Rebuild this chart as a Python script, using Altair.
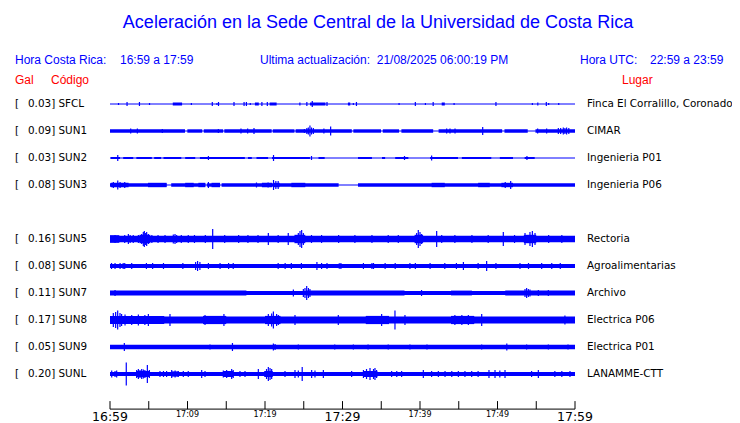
import altair as alt
import pandas as pd

BLUE = "#0000FF"
TITLE = "Aceleración en la Sede Central de la Universidad de Costa Rica"

codes = ["SFCL", "SUN1", "SUN2", "SUN3", "SUN5", "SUN6", "SUN7", "SUN8", "SUN9", "SUNL"]
gal = [0.03, 0.09, 0.03, 0.08, 0.16, 0.08, 0.11, 0.17, 0.05, 0.20]
places = ["Finca El Corralillo, Coronado", "CIMAR", "Ingenieria P01", "Ingenieria P06",
          "Rectoria", "Agroalimentarias", "Archivo", "Electrica P06", "Electrica P01",
          "LANAMME-CTT"]
slots = [0, 1, 2, 3, 5, 6, 7, 8, 9, 10]
# half thickness of the background band (pixels)
base_amp = [0.5, 1.7, 0.5, 1.7, 3.3, 2.1, 2.1, 3.6, 2.2, 2.1]

# minutes where the band thins to a line
gaps = {
    "SUN1": [(9.68, 9.98), (11.9, 12.1), (14.6, 14.75), (20.86, 21.0), (23.8, 23.95),
             (31.2, 31.4), (34.97, 35.2), (37.3, 37.6), (41.7, 42.4), (50.6, 50.9),
             (53.9, 54.9)],
    "SUN3": [(7.3, 7.9), (12.3, 12.5), (14.2, 14.4), (29.5, 32.0)],
}

# denser segments: (start min, end min, half amplitude px)
blocks = {
    "SFCL": [(8.1, 9.3, 1.5), (18.7, 19.2, 1.5), (20.6, 21.5, 1.5), (25.8, 27.8, 1.5),
             (30.7, 31.0, 1.5), (42.8, 43.2, 1.5)],
    "SUN2": [(0.1, 1.3, 1.0), (1.7, 3.0, 1.0), (3.4, 5.4, 1.0), (5.7, 6.6, 1.0),
             (6.9, 9.2, 1.0), (9.7, 11.0, 1.0), (11.6, 17.4, 1.0), (17.8, 18.3, 1.0),
             (18.9, 20.4, 1.0), (20.9, 25.8, 1.0), (26.9, 27.7, 1.0), (32.0, 33.8, 1.0),
             (35.1, 35.5, 1.0), (36.8, 38.5, 1.0), (41.3, 44.9, 1.0), (45.4, 49.2, 1.0),
             (50.3, 52.0, 1.0), (53.5, 54.8, 1.0)],
    "SUN3": [(0.1, 2.4, 2.2), (4.9, 7.3, 2.2), (9.7, 10.8, 2.2), (11.4, 12.3, 2.2),
             (13.1, 14.2, 2.2), (19.6, 20.9, 2.2), (21.1, 21.9, 2.2), (23.4, 25.2, 2.2),
             (41.5, 43.2, 2.2), (47.5, 49.0, 2.2), (50.5, 52.0, 2.2)],
    "SUN5": [(0.0, 1.2, 3.8), (3.8, 5.2, 4.2), (23.8, 25.2, 4.2), (39.3, 40.4, 4.2),
             (53.4, 55.0, 4.2)],
    "SUN6": [(29.5, 29.9, 2.7)],
    "SUN7": [(0.0, 17.6, 2.4), (25.3, 38.0, 2.4), (44.0, 46.7, 2.4), (51.0, 60.0, 2.4)],
    "SUN8": [(0.0, 7.0, 4.1), (12.0, 15.0, 4.1), (20.0, 22.0, 4.1), (33.0, 36.0, 4.1),
             (44.0, 47.0, 4.1)],
    "SUNL": [(3.4, 5.1, 3.0), (7.9, 8.9, 2.6), (14.6, 15.9, 3.0), (19.9, 21.0, 3.0),
             (32.7, 34.5, 3.0)],
}

# individual bursts: (minute, half amplitude px)
spikes = {
    "SFCL": [(1.1, 1), (2.2, 2), (3.8, 2), (5.1, 1), (10.5, 1), (13.2, 2), (13.8, 1), (14.0, 2),
             (16.0, 2), (17.3, 2), (17.6, 2), (18.1, 1), (19.6, 2), (20.3, 2), (24.5, 1.5),
             (25.4, 2), (26.1, 3), (28.0, 2), (31.4, 1), (31.8, 2), (37.3, 1), (39.4, 2),
             (40.7, 1), (41.7, 2), (44.4, 1), (49.8, 2), (54.5, 1), (55.2, 1.5), (56.3, 2),
             (56.6, 1), (57.9, 1)],
    "SUN1": [(2.67, 2.5), (3.53, 2.5), (6.75, 2), (13.98, 2), (16.9, 2.5), (17.76, 2.5),
             (18.58, 3), (25.08, 2), (25.4, 3), (25.59, 3.5), (25.8, 5.5), (26.0, 3.5),
             (26.24, 3), (27.6, 2.5), (28.47, 4.5), (43.44, 2.5), (43.87, 2.5), (44.52, 2.5),
             (48.09, 4), (55.18, 2.5), (56.34, 2.5), (57.85, 3), (58.15, 3), (58.49, 3.5),
             (58.7, 3), (58.92, 3.5), (59.2, 3)],
    "SUN2": [(1.0, 3), (12.7, 2), (21.1, 3), (26.0, 2), (38.0, 2), (41.5, 2.5), (53.8, 2)],
    "SUN3": [(0.43, 3), (1.0, 4.5), (1.3, 3), (1.9, 3), (12.7, 3), (18.9, 2.5), (20.4, 2.5),
             (21.1, 5), (21.4, 4), (21.7, 4), (51.0, 3), (51.7, 4)],
    "SUN5": [(2.37, 5), (4.09, 5), (4.3, 7), (4.43, 8), (4.6, 6), (4.73, 7), (4.95, 5),
             (8.17, 4.5), (8.39, 5), (8.6, 4), (13.25, 10), (20.43, 6), (23.0, 6), (24.3, 6),
             (24.52, 8), (24.73, 9), (24.95, 6), (39.57, 6), (39.78, 9), (40.0, 7), (40.2, 5),
             (42.15, 8), (50.75, 7), (53.55, 6), (54.19, 7), (54.5, 8), (54.84, 6),
             (0.65, 4), (1.9, 4), (2.6, 4), (3.0, 4), (3.66, 4), (5.4, 4), (6.2, 4), (7.1, 4),
             (9.2, 4), (10.1, 4), (10.9, 4), (12.3, 4), (14.8, 4), (16.6, 4), (17.8, 4),
             (19.1, 4), (21.7, 4), (26.0, 4), (27.3, 4), (29.5, 4), (31.6, 4), (33.8, 4),
             (35.9, 4), (37.2, 4), (42.8, 4), (44.5, 4), (46.7, 4), (48.8, 4), (52.2, 4),
             (56.6, 4), (58.3, 4)],
    "SUN6": [(0.2, 3), (0.65, 3), (1.3, 3), (1.7, 3), (1.9, 3), (2.8, 3), (4.7, 3), (5.5, 3),
             (6.9, 3), (9.4, 3), (11.05, 4), (11.3, 5), (11.6, 4), (12.7, 3), (14.2, 3),
             (15.3, 3), (15.9, 3), (21.7, 3), (22.6, 3), (23.4, 3), (24.7, 3), (26.7, 4),
             (27.3, 3), (28.0, 3), (32.7, 3), (33.8, 3), (34.0, 3), (35.5, 3), (36.8, 3),
             (38.7, 3), (39.4, 3), (41.3, 3), (43.2, 3), (44.7, 3), (45.6, 4), (47.5, 3),
             (48.6, 5), (49.8, 3), (52.9, 3), (54.0, 3), (55.7, 3), (57.0, 3), (58.1, 3)],
    "SUN7": [(0.65, 3), (23.66, 3.5), (24.95, 4), (25.16, 5), (25.38, 7), (25.6, 5),
             (25.8, 4), (40.2, 3), (53.55, 4), (53.76, 5), (53.98, 4), (54.19, 3.5),
             (55.27, 3), (56.56, 3)],
    "SUN8": [(0.43, 7), (0.73, 8), (0.99, 9.5), (1.29, 7), (1.5, 6), (1.94, 5.5), (2.8, 5),
             (3.66, 5.5), (4.5, 5), (4.95, 6), (7.74, 6), (12.26, 5), (14.7, 6), (20.43, 6),
             (20.86, 6.5), (21.08, 8.5), (21.5, 6), (21.72, 5), (23.87, 5), (29.46, 5),
             (35.05, 6), (36.77, 9.5), (38.06, 5), (44.5, 5), (45.4, 5), (46.24, 5),
             (47.96, 6), (58.7, 4.5)],
    "SUN9": [(1.85, 4), (12.9, 2.5), (15.8, 4), (21.08, 3.5), (21.3, 3), (24.3, 2.5),
             (29.0, 2.5), (31.4, 2.5), (33.3, 2.5), (35.9, 2.5), (38.7, 2.5), (40.9, 2.5),
             (47.96, 2.5), (51.2, 3.5), (53.76, 2.5), (56.56, 2.5), (59.1, 2.5)],
    "SUNL": [(0.22, 3.5), (0.65, 3), (0.86, 3.5), (2.1, 11.5), (3.44, 4), (3.66, 5), (3.87, 4),
             (4.09, 5), (4.3, 4.5), (4.5, 4), (4.82, 9), (5.08, 4), (6.45, 3), (6.9, 3),
             (7.3, 3), (7.96, 4), (8.4, 3.5), (8.8, 3), (9.46, 3), (10.1, 3), (11.83, 4),
             (12.26, 3), (14.62, 3.5), (15.05, 4), (15.7, 5), (15.9, 4), (16.77, 3),
             (17.42, 3), (19.14, 5), (20.2, 5), (20.43, 7), (20.65, 6), (20.86, 5),
             (22.58, 3), (23.87, 4), (24.3, 3.5), (24.8, 7), (26.02, 4), (26.45, 3.5),
             (27.53, 4), (31.18, 3), (32.7, 4), (33.1, 5), (33.55, 6), (34.0, 5), (34.19, 6),
             (34.4, 4), (36.34, 3), (37.0, 3), (37.63, 3), (40.43, 4), (41.5, 3), (42.37, 3),
             (43.23, 3), (44.1, 3), (44.95, 3), (45.8, 3), (46.67, 3), (47.5, 3), (48.9, 4),
             (49.68, 4), (50.3, 3.5), (50.97, 4), (54.4, 3), (55.27, 4), (57.4, 3), (58.3, 3),
             (59.35, 3)],
}

tick_minutes = list(range(0, 61, 5))
major_ticks = [0, 30, 60]
major_labels = ["16:59", "17:29", "17:59"]
minor_ticks = [10, 20, 40, 50]
minor_labels = ["17:09", "17:19", "17:39", "17:49"]

PX_PER_SLOT = 27.0
AXIS_SLOT = 11.3
TICK_LEN_SLOT = 8 / 27.0
NB = "\u00a0"

# ---------------- build tables ----------------
lines, bands, spk = [], [], []
for code, slot, b in zip(codes, slots, base_amp):
    lines.append({"t0": 0, "t1": 60, "y": slot})
    if b > 0.6:
        segs, start = [], 0.0
        for g0, g1 in gaps.get(code, []):
            segs.append((start, g0))
            start = g1
        segs.append((start, 60.0))
        for s0, s1 in segs:
            bands.append({"t0": s0, "t1": s1, "y": slot + b / PX_PER_SLOT, "y2": slot - b / PX_PER_SLOT})
    for s0, s1, a in blocks.get(code, []):
        bands.append({"t0": s0, "t1": s1, "y": slot + a / PX_PER_SLOT, "y2": slot - a / PX_PER_SLOT})
    for t, a in spikes.get(code, []):
        spk.append({"t": t, "y": slot + a / PX_PER_SLOT, "y2": slot - a / PX_PER_SLOT})

lines_df = pd.DataFrame(lines)
bands_df = pd.DataFrame(bands)
spk_df = pd.DataFrame(spk)
labels_df = pd.DataFrame({
    "y": slots,
    "bracket": ["["] * len(codes),
    "left": [f"{g:.2f}] {c}" for g, c in zip(gal, codes)],
    "right": places,
})
ticks_df = pd.DataFrame({"t": tick_minutes, "y": AXIS_SLOT, "y2": AXIS_SLOT - TICK_LEN_SLOT})
axis_df = pd.DataFrame({"t0": [0], "t1": [60], "y": [AXIS_SLOT]})
major_df = pd.DataFrame({"t": major_ticks, "label": major_labels})
minor_df = pd.DataFrame({"t": minor_ticks, "label": minor_labels})

xs = alt.Scale(domain=[0, 60], range=[102, 567])
ys = alt.Scale(domain=[0, 10], range=[96, 366])
X = lambda f: alt.X(f, type="quantitative", scale=xs, axis=None)
Y = lambda f: alt.Y(f, type="quantitative", scale=ys, axis=None)

layers = []
layers.append(alt.Chart(lines_df).mark_rule(color=BLUE, strokeWidth=1).encode(
    x=X("t0"), x2="t1", y=Y("y")))
layers.append(alt.Chart(bands_df).mark_rect(color=BLUE).encode(
    x=X("t0"), x2="t1", y=Y("y"), y2="y2"))
layers.append(alt.Chart(spk_df).mark_rule(color=BLUE, strokeWidth=1.2).encode(
    x=X("t"), y=Y("y"), y2="y2"))
layers.append(alt.Chart(axis_df).mark_rule(color="black", strokeWidth=1).encode(
    x=X("t0"), x2="t1", y=Y("y")))
layers.append(alt.Chart(ticks_df).mark_rule(color="black", strokeWidth=1).encode(
    x=X("t"), y=Y("y"), y2="y2"))
layers.append(alt.Chart(major_df).mark_text(font="DejaVu Sans", fontSize=12.5, color="black",
                                            baseline="middle").encode(
    x=X("t"), y=alt.value(408.5), text="label:N"))
layers.append(alt.Chart(minor_df).mark_text(font="DejaVu Sans", fontSize=8, color="black",
                                            baseline="middle").encode(
    x=X("t"), y=alt.value(407), text="label:N"))
layers.append(alt.Chart(labels_df).mark_text(font="DejaVu Sans", fontSize=10.4, color="black",
                                             align="left", baseline="middle").encode(
    x=alt.value(7), y=Y("y"), text="bracket:N"))
layers.append(alt.Chart(labels_df).mark_text(font="DejaVu Sans", fontSize=10.4, color="black",
                                             align="left", baseline="middle").encode(
    x=alt.value(20), y=Y("y"), text="left:N"))
layers.append(alt.Chart(labels_df).mark_text(font="DejaVu Sans", fontSize=10.4, color="black",
                                             align="left", baseline="middle").encode(
    x=alt.value(579), y=Y("y"), text="right:N"))

head = pd.DataFrame({"text": [TITLE]})
layers.append(alt.Chart(head).mark_text(font="Liberation Sans", fontSize=18, color=BLUE,
                                        baseline="middle").encode(
    x=alt.value(370), y=alt.value(15), text="text:N"))

hdr_rows = [
    ("Hora Costa Rica:", 7, 52, BLUE),
    ("16:59 a 17:59", 112, 52, BLUE),
    ("Ultima actualización:" + NB + NB + "21/08/2025 06:00:19 PM", 252, 52, BLUE),
    ("Hora UTC:", 572, 52, BLUE),
    ("22:59 a 23:59", 642, 52, BLUE),
    ("Gal", 7, 72, "#FF0000"),
    ("Código", 43, 72, "#FF0000"),
    ("Lugar", 614, 72, "#FF0000"),
]
for txt, px, py, col in hdr_rows:
    layers.append(alt.Chart(pd.DataFrame({"text": [txt]})).mark_text(
        font="Liberation Sans", fontSize=12, color=col, align="left", baseline="middle").encode(
        x=alt.value(px), y=alt.value(py), text="text:N"))

chart = alt.layer(*layers).properties(
    width=724, height=415, autosize=alt.AutoSizeParams(type="none"), padding=0,
    background="white"
).configure_view(strokeWidth=0)

chart.save("out.html", embed_options={"renderer": "svg", "actions": False})
